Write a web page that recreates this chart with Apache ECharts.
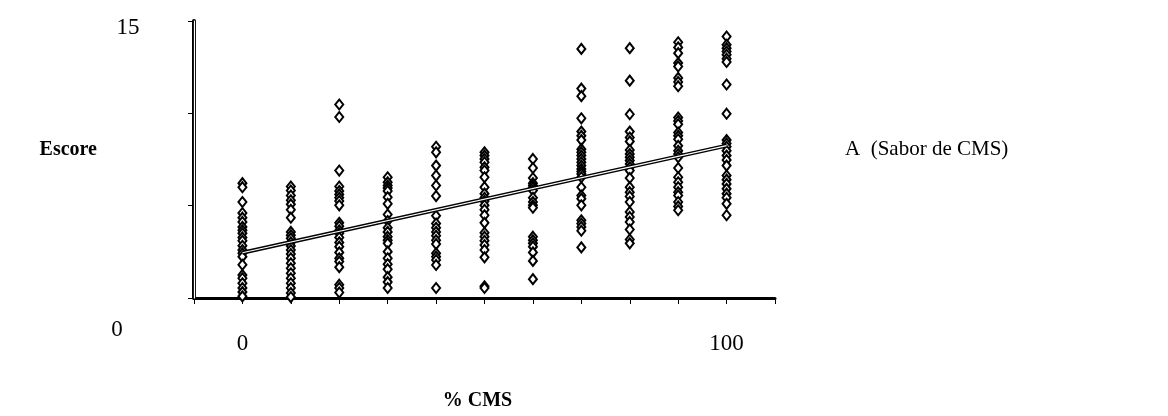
<!DOCTYPE html>
<html>
<head>
<meta charset="utf-8">
<script src="https://cdn.jsdelivr.net/npm/echarts@6/dist/echarts.min.js"></script>
<style>html,body{margin:0;padding:0;background:#fff}#c{width:1168px;height:416px}</style>
</head>
<body>
<div id="c"></div>
<script>
// % CMS levels
const cmsLevels = [0, 10, 20, 30, 40, 50, 60, 70, 80, 90, 100];
// Escore readings for each level
const scores0 = [6.22,6.0,5.2,4.6,4.35,4.12,3.85,3.67,3.5,3.28,3.1,2.83,2.6,2.42,2.24,1.8,1.25,1.07,0.8,0.54,0.32,0.09];
const scores10 = [6.04,5.82,5.55,5.29,5.07,4.78,4.35,3.58,3.4,3.23,3.01,2.81,2.6,2.38,2.15,1.88,1.61,1.34,1.07,0.8,0.54,0.27,0.05];
const scores20 = [10.48,9.8,6.9,6.04,5.79,5.61,5.43,5.25,5.02,4.07,3.89,3.67,3.5,3.28,3.01,2.78,2.47,2.15,1.97,1.67,0.72,0.54,0.3];
const scores30 = [6.54,6.27,6.09,5.95,5.79,5.46,5.1,4.52,4.17,3.8,3.58,3.32,3.13,2.96,2.51,2.15,1.83,1.56,1.13,0.86,0.54];
const scores40 = [8.19,7.89,7.17,6.63,6.09,5.52,4.45,4.03,3.8,3.58,3.37,3.13,2.92,2.42,2.24,2.06,1.79,0.54];
const scores50 = [7.89,7.71,7.53,7.35,7.08,6.9,6.54,6.0,5.65,5.43,5.25,5.02,4.78,4.48,4.07,3.53,3.32,3.1,2.87,2.6,2.2,0.63,0.54];
const scores60 = [7.53,7.04,6.5,6.22,6.09,5.97,5.82,5.43,5.2,5.02,4.89,3.32,3.13,2.96,2.78,2.47,2.01,1.02];
const scores70 = [13.49,11.34,10.93,9.73,9.01,8.78,8.55,8.06,7.89,7.71,7.53,7.35,7.17,6.99,6.85,6.72,6.54,6.0,5.55,5.38,5.02,4.21,4.03,3.85,3.64,2.74];
const scores80 = [13.53,11.77,9.95,9.01,8.69,8.48,8.01,7.8,7.62,7.44,7.26,7.08,6.9,6.5,6.0,5.73,5.5,5.2,4.66,4.39,4.12,3.71,3.17,2.96];
const scores90 = [13.85,13.57,13.26,12.72,12.54,11.92,11.7,11.47,9.77,9.59,9.41,8.96,8.78,8.6,8.24,7.97,7.8,7.62,7.04,6.54,6.27,6.0,5.73,5.55,5.2,4.96,4.75];
const scores100 = [14.16,13.71,13.53,13.35,13.17,12.96,12.78,11.56,9.98,8.55,8.37,8.19,7.97,7.71,7.47,7.17,6.63,6.41,6.18,5.91,5.65,5.43,5.1,4.48];
// fitted trend line end points
const trendX = [0, 100];
const trendY = [2.45, 8.25];
// axis settings / labels
const xMin = -10, xMax = 110, xStep = 10;
const yMin = 0, yMax = 15, yStep = 5;
const xLabelsShown = [0, 100];
const yLabelsShown = [0, 15];
const seriesName = 'A  (Sabor de CMS)';

const allScores = [scores0, scores10, scores20, scores30, scores40, scores50, scores60, scores70, scores80, scores90, scores100];
const scatterData = [];
cmsLevels.forEach((lvl, i) => allScores[i].forEach(v => scatterData.push([lvl, v])));
const trendData = trendX.map((x, i) => [x, trendY[i]]);

const serif = 'Liberation Serif';
const chart = echarts.init(document.getElementById('c'), null, {renderer: 'canvas'});
chart.setOption({
  animation: false,
  backgroundColor: '#fff',
  grid: {left: 194, right: 393, top: 21, bottom: 116},
  legend: {
    data: [{name: seriesName, icon: 'none'}],
    left: 835, top: 134, itemWidth: 0, itemGap: 0,
    textStyle: {fontFamily: serif, fontSize: 21, color: '#000'}
  },
  xAxis: {
    type: 'value', min: xMin, max: xMax, interval: xStep,
    splitLine: {show: false},
    axisLine: {show: true, onZero: false, lineStyle: {color: '#000', width: 3}},
    axisTick: {show: true, length: 6, lineStyle: {color: '#000', width: 1}},
    axisLabel: {margin: 34, fontFamily: serif, fontSize: 23, color: '#000',
      formatter: v => xLabelsShown.includes(v) ? String(v) : ''},
    name: '% CMS', nameLocation: 'middle', nameGap: 93,
    nameTextStyle: {fontFamily: serif, fontSize: 20, fontWeight: 'bold', color: '#000', padding: [0, 14, 0, 0]}
  },
  yAxis: [{
    type: 'value', min: yMin, max: yMax, interval: yStep,
    splitLine: {show: false},
    axisLine: {show: true, onZero: false, lineStyle: {color: '#000', width: 4}},
    axisTick: {show: true, length: 6, lineStyle: {color: '#000', width: 1}},
    axisLabel: {margin: 66, align: 'center', fontFamily: serif, fontSize: 23, color: '#000',
      formatter: v => v === yMin ? '{lo|' + v + '}' : (yLabelsShown.includes(v) ? '{hi|' + v + '}' : ''),
      rich: {
        hi: {fontFamily: serif, fontSize: 23, color: '#000', padding: [14, 0, 0, 0]},
        lo: {fontFamily: serif, fontSize: 23, color: '#000', padding: [64, 22, 0, 0]}
      }},
    name: 'Escore', nameLocation: 'middle', nameRotate: 0, nameGap: 97,
    nameTextStyle: {fontFamily: serif, fontSize: 20, fontWeight: 'bold', color: '#000', verticalAlign: 'bottom'}
  }, {
    type: 'value', min: yMin, max: yMax, interval: yStep, position: 'left', z: 10,
    splitLine: {show: false}, axisTick: {show: false}, axisLabel: {show: false},
    axisLine: {show: true, onZero: false, lineStyle: {color: '#fff', width: 1.2}}
  }],
  series: [
    {
      name: seriesName, type: 'scatter', data: scatterData,
      symbol: 'diamond', symbolSize: [8, 10],
      itemStyle: {color: '#fff', borderColor: '#000', borderWidth: 2, opacity: 1},
      z: 3
    },
    {
      name: 'trend', type: 'line', data: trendData, symbol: 'none',
      lineStyle: {color: '#000', width: 4}, z: 4
    },
    {
      name: 'trend2', type: 'line', data: trendData, symbol: 'none',
      lineStyle: {color: '#fff', width: 1.2}, z: 5
    }
  ]
});
</script>
</body>
</html>
